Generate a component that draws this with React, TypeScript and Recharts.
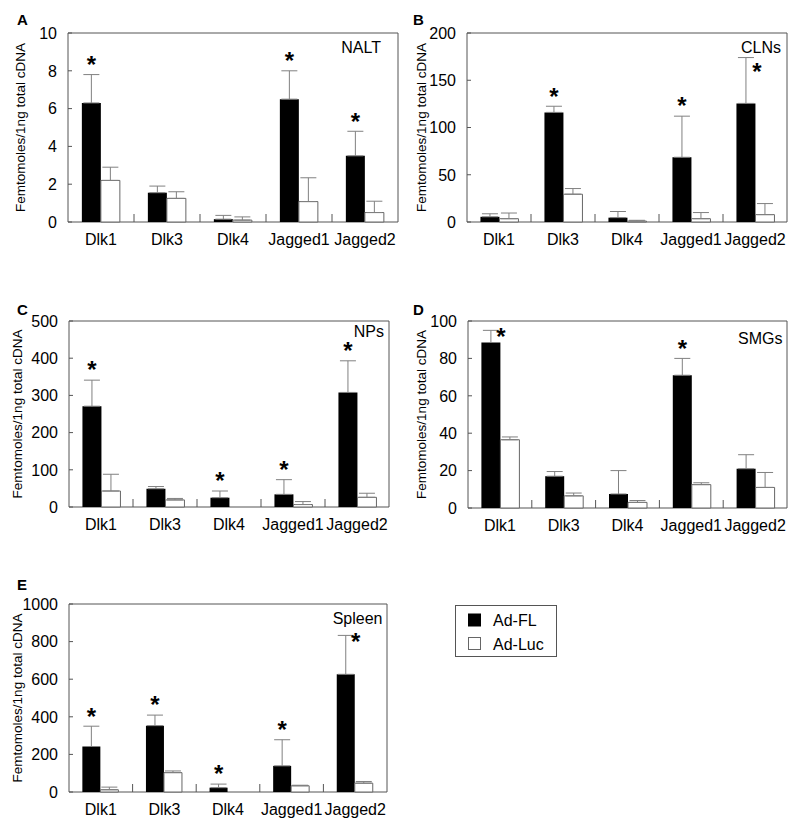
import { BarChart, Bar, XAxis, YAxis, ErrorBar, LabelList, ReferenceArea } from 'recharts';

const genes = ['Dlk1', 'Dlk3', 'Dlk4', 'Jagged1', 'Jagged2'];

// NALT
const naltFL = [6.3, 1.55, 0.15, 6.5, 3.5];
const naltFLErr = [1.5, 0.35, 0.2, 1.5, 1.3];
const naltLuc = [2.2, 1.25, 0.1, 1.08, 0.5];
const naltLucErr = [0.7, 0.35, 0.17, 1.26, 0.6];
const naltStars = [true, false, false, true, true];
const naltStarAt = ['top', 'top', 'top', 'top', 'top'];

// CLNs
const clnFL = [5.5, 116, 4.6, 68.5, 125.5];
const clnFLErr = [3.2, 6.5, 6.5, 43.5, 48.5];
const clnLuc = [3.5, 29.4, 1, 3.5, 7.8];
const clnLucErr = [6, 6, 0.8, 6.5, 11.7];
const clnStars = [false, true, false, true, true];
const clnStarAt = ['top', 'top', 'top', 'top', 'rightLow'];

// NPs
const npFL = [271, 49, 25, 34, 308];
const npFLErr = [70, 6, 18, 39.5, 85];
const npLuc = [43, 19, 0, 6.6, 26];
const npLucErr = [45, 4, 0, 8, 11];
const npStars = [true, false, true, true, true];
const npStarAt = ['top', 'top', 'top', 'top', 'top'];

// SMGs
const smgFL = [88.5, 17, 7.5, 71, 21];
const smgFLErr = [6.5, 2.5, 12.5, 9, 7.5];
const smgLuc = [36.5, 6.5, 3, 12.5, 11];
const smgLucErr = [1.5, 1.5, 1, 1, 8];
const smgStars = [true, false, false, true, false];
const smgStarAt = ['right', 'top', 'top', 'top', 'top'];

// Spleen
const spleenFL = [242, 353, 23, 139, 626];
const spleenFLErr = [108, 56, 19, 139, 207];
const spleenLuc = [12, 103, 0, 33, 47];
const spleenLucErr = [14, 9, 0, 3, 9];
const spleenStars = [true, true, true, true, true];
const spleenStarAt = ['top', 'top', 'top', 'top', 'right'];

const FONT = '"Liberation Sans", Arial, sans-serif';
const FRAME = '#555';
const ERR = '#808080';

const buildRows = (fl: number[], flErr: number[], luc: number[], lucErr: number[]) =>
  genes.map((g, i) => ({
    gene: g,
    fl: fl[i],
    flErr: [0, flErr[i]],
    luc: luc[i],
    lucErr: [0, lucErr[i]],
  }));

const panels = [
  {
    title: 'NALT', max: 10, ticks: [0, 2, 4, 6, 8, 10],
    fl: naltFL, flErr: naltFLErr, luc: naltLuc, lucErr: naltLucErr, stars: naltStars, starAt: naltStarAt,
    x0: 0, left: 68, right: 398, top: 33, bottom: 222, labelX: 20, titleRight: 17, titleBase: 20.4,
  },
  {
    title: 'CLNs', max: 200, ticks: [0, 50, 100, 150, 200],
    fl: clnFL, flErr: clnFLErr, luc: clnLuc, lucErr: clnLucErr, stars: clnStars, starAt: clnStarAt,
    x0: 400, left: 467, right: 787, top: 33, bottom: 222, labelX: 21, titleRight: 6, titleBase: 20.4,
  },
  {
    title: 'NPs', max: 500, ticks: [0, 100, 200, 300, 400, 500],
    fl: npFL, flErr: npFLErr, luc: npLuc, lucErr: npLucErr, stars: npStars, starAt: npStarAt,
    x0: 0, left: 69, right: 389, top: 321, bottom: 507, labelX: 17, titleRight: 5, titleBase: 16.4,
  },
  {
    title: 'SMGs', max: 100, ticks: [0, 20, 40, 60, 80, 100],
    fl: smgFL, flErr: smgFLErr, luc: smgLuc, lucErr: smgLucErr, stars: smgStars, starAt: smgStarAt,
    x0: 400, left: 468, right: 787, top: 321, bottom: 508, labelX: 21, titleRight: 4.5, titleBase: 23,
  },
  {
    title: 'Spleen', max: 1000, ticks: [0, 200, 400, 600, 800, 1000],
    fl: spleenFL, flErr: spleenFLErr, luc: spleenLuc, lucErr: spleenLucErr, stars: spleenStars, starAt: spleenStarAt,
    x0: 0, left: 69, right: 387, top: 604, bottom: 792, labelX: 17, titleRight: 4.5, titleBase: 20,
  },
];

const letters = [
  { t: 'A', x: 17, y: 25 },
  { t: 'B', x: 413, y: 25 },
  { t: 'C', x: 17, y: 315 },
  { t: 'D', x: 413, y: 315 },
  { t: 'E', x: 17, y: 590 },
];

const XTick = ({ x, y, payload, index, band }: any) => (
  <g>
    {index > 0 && (
      <line x1={x - band / 2} x2={x - band / 2} y1={y} y2={y - 8} stroke={FRAME} strokeWidth={1} />
    )}
    <text x={x} y={y + 22.5} textAnchor="middle" fontSize={16} fontFamily={FONT} fill="#000">
      {payload.value}
    </text>
  </g>
);

const YTick = ({ x, y, payload }: any) => (
  <g>
    <line x1={x} x2={x + 4} y1={y} y2={y} stroke={FRAME} strokeWidth={1} />
    <text x={x - 11} y={y + 5.8} textAnchor="end" fontSize={16} fontFamily={FONT} fill="#000">
      {payload.value}
    </text>
  </g>
);

const Panel = ({ cfg }: any) => {
  const mt = 20;
  const xh = 35;
  const height = cfg.bottom - cfg.top + mt + xh;
  const band = (cfg.right - cfg.left) / genes.length;
  const rows = buildRows(cfg.fl, cfg.flErr, cfg.luc, cfg.lucErr);

  const renderStar = (p: any) => {
    const i = p.index;
    if (!cfg.stars[i]) return null;
    const vb = p.viewBox ?? p;
    const v = cfg.fl[i];
    const e = cfg.flErr[i];
    const base = vb.y + vb.height;
    const capY = base - (v + e) * (vb.height / v);
    const cx = vb.x + vb.width / 2;
    const at = cfg.starAt[i];
    let sx = cx;
    let sy = capY - 1.7;
    if (at === 'right') {
      sx = cx + 10;
      sy = capY + 15;
    } else if (at === 'rightLow') {
      sx = cx + 11;
      sy = capY + 22;
    }
    return (
      <text
        key={`star-${i}`}
        x={sx}
        y={sy}
        textAnchor="middle"
        fontSize={24}
        fontWeight="bold"
        fontFamily={FONT}
        fill="#000"
      >
        *
      </text>
    );
  };

  const renderTitle = (p: any) => {
    const vb = p.viewBox;
    if (!vb) return null;
    return (
      <text
        x={vb.x + vb.width - cfg.titleRight}
        y={vb.y + cfg.titleBase}
        textAnchor="end"
        fontSize={16}
        fontFamily={FONT}
        fill="#000"
      >
        {cfg.title}
      </text>
    );
  };

  return (
    <div style={{ position: 'absolute', left: cfg.x0, top: cfg.top - mt }}>
      <BarChart
        width={400}
        height={height}
        data={rows}
        margin={{ top: mt, right: cfg.x0 + 400 - cfg.right, left: 0, bottom: 0 }}
        barCategoryGap="21%"
        barGap={0}
      >
        <XAxis
          dataKey="gene"
          axisLine={false}
          tickLine={false}
          tickSize={0}
          tickMargin={0}
          height={xh}
          interval={0}
          tick={<XTick band={band} />}
        />
        <YAxis
          width={cfg.left - cfg.x0}
          domain={[0, cfg.max]}
          ticks={cfg.ticks}
          axisLine={false}
          tickLine={false}
          tickSize={0}
          tickMargin={0}
          tick={<YTick />}
          label={{
            value: 'Femtomoles/1ng total cDNA',
            angle: -90,
            position: 'insideLeft',
            offset: cfg.labelX,
            fill: '#000',
            style: { textAnchor: 'middle', fontSize: 13.5, fill: '#000', fontFamily: FONT },
          }}
        />
        <ReferenceArea
          y1={0}
          y2={cfg.max}
          fill="none"
          fillOpacity={0}
          stroke={FRAME}
          strokeWidth={1}
          ifOverflow="visible"
          label={{ content: renderTitle }}
        />
        <Bar dataKey="fl" fill="#000" isAnimationActive={false}>
          <ErrorBar dataKey="flErr" width={8} stroke={ERR} strokeWidth={1} />
          <LabelList dataKey="fl" content={renderStar} />
        </Bar>
        <Bar dataKey="luc" fill="#fff" stroke="#666" strokeWidth={1} isAnimationActive={false}>
          <ErrorBar dataKey="lucErr" width={8} stroke={ERR} strokeWidth={1} />
        </Bar>
      </BarChart>
    </div>
  );
};

export default function App() {
  return (
    <div
      style={{
        position: 'absolute',
        left: 0,
        top: 0,
        width: 800,
        height: 825,
        overflow: 'hidden',
        background: '#fff',
        fontFamily: FONT,
      }}
    >
      {panels.map((cfg) => (
        <Panel key={cfg.title} cfg={cfg} />
      ))}
      <svg width={800} height={825} style={{ position: 'absolute', left: 0, top: 0, pointerEvents: 'none' }}>
        {letters.map((l) => (
          <text key={l.t} x={l.x} y={l.y} fontSize={15} fontWeight="bold" fontFamily={FONT} fill="#000">
            {l.t}
          </text>
        ))}
        <rect x={455.5} y={605.5} width={101} height={51} fill="none" stroke={FRAME} strokeWidth={1} />
        <rect x={468} y={613.5} width={13} height={13} fill="#000" />
        <text x={493} y={626} fontSize={16} fontFamily={FONT} fill="#000">Ad-FL</text>
        <rect x={468.5} y={637.5} width={12} height={12} fill="#fff" stroke="#666" strokeWidth={1} />
        <text x={493} y={650} fontSize={16} fontFamily={FONT} fill="#000">Ad-Luc</text>
      </svg>
    </div>
  );
}
